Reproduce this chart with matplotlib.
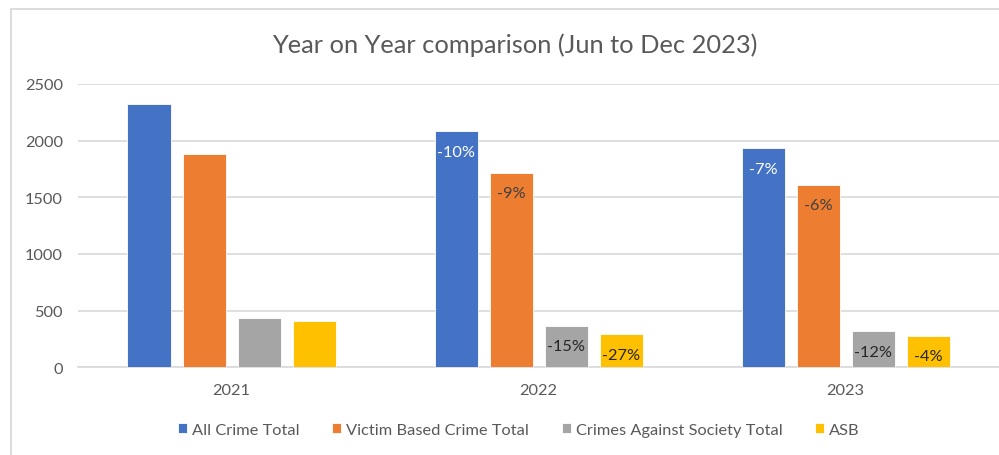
import matplotlib
matplotlib.use("Agg")
import matplotlib.pyplot as plt
from matplotlib.patches import Rectangle
import numpy as np

plt.rcParams['font.family'] = ['Lato', 'DejaVu Sans']

years = ["2021", "2022", "2023"]
series = ["All Crime Total", "Victim Based Crime Total", "Crimes Against Society Total", "ASB"]
all_crime = [2320, 2085, 1937]
victim_based = [1882, 1719, 1613]
against_society = [435, 368, 322]
asb = [406, 294, 280]
labels_all = ["", "-10%", "-7%"]
labels_victim = ["", "-9%", "-6%"]
labels_society = ["", "-15%", "-12%"]
labels_asb = ["", "-27%", "-4%"]

colors = ["#4472C4", "#ED7D31", "#A5A5A5", "#FFC000"]
label_colors = ["white", "#404040", "#262626", "#262626"]
text_col = "#595959"
fs = 11.8

fig = plt.figure(figsize=(9.99, 4.56), dpi=100)
fig.patch.set_facecolor("white")
# chart border
fig.add_artist(Rectangle((11/999, -0.1), 1.2, (456-10)/456 + 0.1, transform=fig.transFigure,
                         fill=False, edgecolor="#d9d9d9", linewidth=1.3))

ax = fig.add_axes([78/999, (456-368.3)/456, 1 - 78/999, (368.3-85)/456])
x = np.arange(len(years))
step = 55/307
width = 43/307
data = [all_crime, victim_based, against_society, asb]
labs = [labels_all, labels_victim, labels_society, labels_asb]
for i, (vals, lab) in enumerate(zip(data, labs)):
    xs = x + (i - 1.5) * step
    bars = ax.bar(xs, vals, width, color=colors[i], edgecolor="white", linewidth=0.6,
                  label=series[i], zorder=3)
    for b, t in zip(bars, lab):
        if t:
            ax.annotate(t, (b.get_x() + b.get_width()/2, b.get_height()),
                        xytext=(0, -15), textcoords="offset points",
                        ha="center", va="center", fontsize=fs, color=label_colors[i], zorder=4)

ax.set_xlim(-0.5, 2.5)
ax.set_ylim(0, 2500)
ax.set_yticks([0, 500, 1000, 1500, 2000, 2500])
ax.set_xticks(x)
ax.set_xticklabels(years)
ax.yaxis.grid(True, color="#d9d9d9", linewidth=1.2, zorder=0)
ax.set_axisbelow(True)
for s in ["top", "right", "left"]:
    ax.spines[s].set_visible(False)
ax.spines["bottom"].set_color("#d9d9d9")
ax.spines["bottom"].set_linewidth(1.2)
ax.tick_params(axis="both", length=0, labelsize=fs, labelcolor=text_col)
ax.tick_params(axis="y", pad=10.8)
ax.tick_params(axis="x", pad=11)

fig.text(515/999, 1 - 45/456, "Year on Year comparison (Jun to Dec 2023)", ha="center", va="center",
         fontsize=18.3, color=text_col)

leg = fig.legend(loc="center", bbox_to_anchor=(519/999, 1 - 431/456), ncol=4, frameon=False,
                 fontsize=fs, handlelength=0.55, handleheight=0.55, handletextpad=0.3,
                 columnspacing=2.0, labelcolor=text_col)

fig.savefig("out.png", dpi=100)
